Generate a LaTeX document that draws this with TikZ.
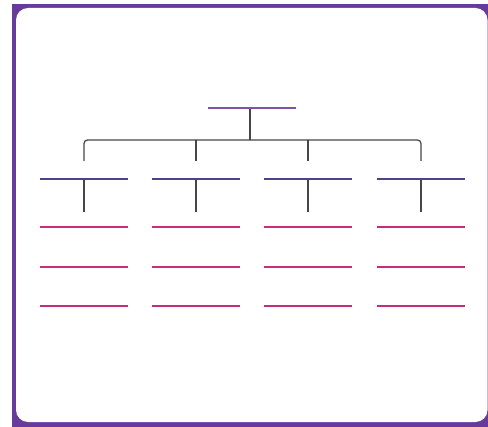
\documentclass[tikz,border=0pt]{standalone}
\usepackage{tikz}
\definecolor{FramePurple}{RGB}{104,58,156}
\definecolor{TopPurple}{RGB}{128,84,164}
\definecolor{MidPurple}{RGB}{80,64,140}
\definecolor{LeafPink}{RGB}{196,44,128}
\definecolor{LinkGray}{RGB}{70,70,70}
\tikzstyle{none}=[inner sep=0pt]
\tikzstyle{topbar}=[-,draw=TopPurple,line width=1.9pt]
\tikzstyle{midbar}=[-,draw=MidPurple,line width=1.9pt]
\tikzstyle{leaf}=[-,draw=LeafPink,line width=1.6pt]
\tikzstyle{link}=[-,draw=LinkGray,line width=0.9pt]

\begin{document}
\begin{tikzpicture}[x=0.025cm,y=-0.025cm]
  \useasboundingbox (0,0) rectangle (488,427);
  \fill [FramePurple] (12,4) rectangle (488,427);
  \fill [white, rounded corners=0.3cm] (16,8) rectangle (487.5,422);
  \node [style=none] (0) at (208, 108) {};
  \node [style=none] (1) at (296, 108) {};
  \node [style=none] (2) at (250, 108) {};
  \node [style=none] (3) at (250, 140) {};
  \node [style=none] (4) at (84, 161) {};
  \node [style=none] (5) at (84, 140) {};
  \node [style=none] (6) at (421, 140) {};
  \node [style=none] (7) at (421, 161) {};
  \node [style=none] (8) at (196, 140) {};
  \node [style=none] (9) at (196, 161) {};
  \node [style=none] (10) at (308, 140) {};
  \node [style=none] (11) at (308, 161) {};
  \node [style=none] (12) at (40, 179) {};
  \node [style=none] (13) at (128, 179) {};
  \node [style=none] (14) at (152, 179) {};
  \node [style=none] (15) at (240, 179) {};
  \node [style=none] (16) at (264, 179) {};
  \node [style=none] (17) at (352, 179) {};
  \node [style=none] (18) at (377, 179) {};
  \node [style=none] (19) at (465, 179) {};
  \node [style=none] (20) at (84, 179) {};
  \node [style=none] (21) at (84, 212) {};
  \node [style=none] (22) at (196, 179) {};
  \node [style=none] (23) at (196, 212) {};
  \node [style=none] (24) at (308, 179) {};
  \node [style=none] (25) at (308, 212) {};
  \node [style=none] (26) at (421, 179) {};
  \node [style=none] (27) at (421, 212) {};
  \node [style=none] (28) at (40, 227) {};
  \node [style=none] (29) at (128, 227) {};
  \node [style=none] (30) at (152, 227) {};
  \node [style=none] (31) at (240, 227) {};
  \node [style=none] (32) at (264, 227) {};
  \node [style=none] (33) at (352, 227) {};
  \node [style=none] (34) at (377, 227) {};
  \node [style=none] (35) at (465, 227) {};
  \node [style=none] (36) at (40, 267) {};
  \node [style=none] (37) at (128, 267) {};
  \node [style=none] (38) at (152, 267) {};
  \node [style=none] (39) at (240, 267) {};
  \node [style=none] (40) at (264, 267) {};
  \node [style=none] (41) at (352, 267) {};
  \node [style=none] (42) at (377, 267) {};
  \node [style=none] (43) at (465, 267) {};
  \node [style=none] (44) at (40, 306) {};
  \node [style=none] (45) at (128, 306) {};
  \node [style=none] (46) at (152, 306) {};
  \node [style=none] (47) at (240, 306) {};
  \node [style=none] (48) at (264, 306) {};
  \node [style=none] (49) at (352, 306) {};
  \node [style=none] (50) at (377, 306) {};
  \node [style=none] (51) at (465, 306) {};
  \draw [style=link] (2.center) to (3.center);
  \draw [style=link, rounded corners=2.5pt] (4.center) -- (5.center) -- (6.center) -- (7.center);
  \draw [style=link] (8.center) to (9.center);
  \draw [style=link] (10.center) to (11.center);
  \draw [style=link] (20.center) to (21.center);
  \draw [style=link] (22.center) to (23.center);
  \draw [style=link] (24.center) to (25.center);
  \draw [style=link] (26.center) to (27.center);
  \draw [style=topbar] (0.center) to (1.center);
  \draw [style=midbar] (12.center) to (13.center);
  \draw [style=midbar] (14.center) to (15.center);
  \draw [style=midbar] (16.center) to (17.center);
  \draw [style=midbar] (18.center) to (19.center);
  \draw [style=leaf] (28.center) to (29.center);
  \draw [style=leaf] (30.center) to (31.center);
  \draw [style=leaf] (32.center) to (33.center);
  \draw [style=leaf] (34.center) to (35.center);
  \draw [style=leaf] (36.center) to (37.center);
  \draw [style=leaf] (38.center) to (39.center);
  \draw [style=leaf] (40.center) to (41.center);
  \draw [style=leaf] (42.center) to (43.center);
  \draw [style=leaf] (44.center) to (45.center);
  \draw [style=leaf] (46.center) to (47.center);
  \draw [style=leaf] (48.center) to (49.center);
  \draw [style=leaf] (50.center) to (51.center);
\end{tikzpicture}
\end{document}
